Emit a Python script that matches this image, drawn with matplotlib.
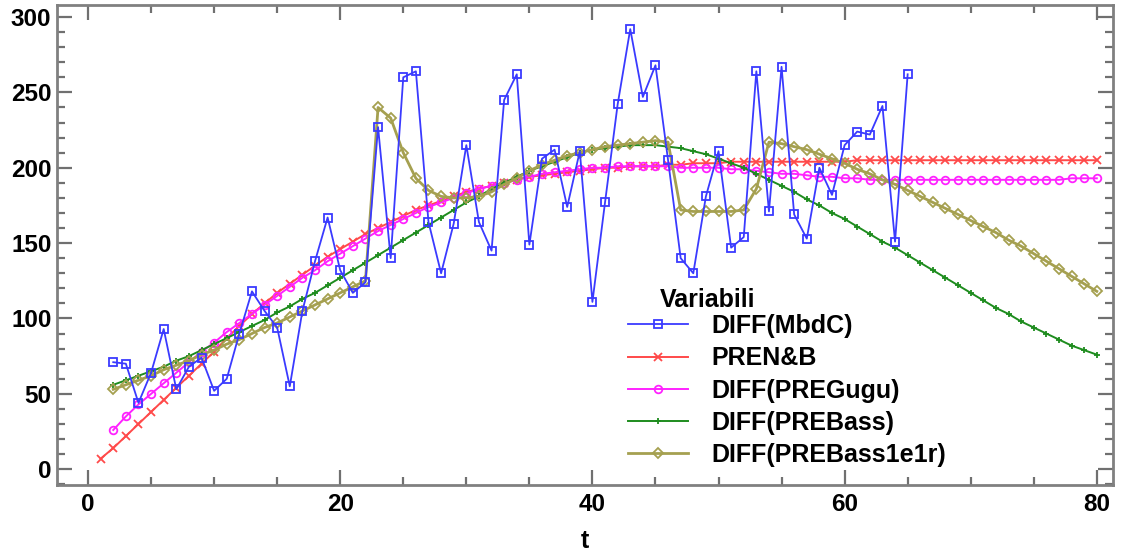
import matplotlib
matplotlib.use("Agg")
import matplotlib.pyplot as plt
from matplotlib.ticker import MultipleLocator

plt.rcParams['font.family'] = ['Liberation Sans', 'DejaVu Sans']

# ---------------- data ----------------
t_mbdc = list(range(2, 66))
mbdc = [71, 70, 44, 64, 93, 53, 68, 74, 52, 60, 90, 118, 105, 94, 55, 105, 138, 167, 132, 117,
        124, 227, 140, 260, 264, 164, 130, 163, 215, 164, 145, 245, 262, 149, 206, 212, 174, 211,
        111, 177, 242, 292, 247, 268, 205, 140, 130, 181, 211, 147, 154, 264, 171, 267, 169, 153,
        200, 182, 215, 224, 222, 241, 151, 262]

t_renb = list(range(1, 81))
renb = [7, 14, 22, 30, 38, 46, 54, 62, 70, 78, 87, 95, 103, 110, 117, 123, 129, 135, 141, 146,
        151, 156, 160, 164, 168, 172, 175, 178, 181, 184, 186, 188, 190, 192, 194, 195, 196, 197,
        198, 199, 200, 200, 201, 201, 201, 202, 202, 203, 203, 203, 204, 204, 204, 204, 204, 204,
        204, 204, 204, 204, 205, 205, 205, 205, 205, 205, 205, 205, 205, 205, 205, 205, 205, 205,
        205, 205, 205, 205, 205, 205]

t_rest = list(range(2, 81))
gugu = [26, 35, 43, 50, 57, 64, 71, 78, 84, 91, 97, 103, 109, 115, 121, 127, 132, 138, 143,
        148, 153, 158, 162, 166, 170, 174, 177, 180, 183, 186, 188, 190, 192, 194, 196, 197, 198,
        199, 200, 200, 201, 201, 201, 201, 201, 200, 200, 200, 200, 199, 199, 198, 197, 196, 196,
        195, 194, 194, 193, 193, 192, 192, 192, 192, 192, 192, 192, 192, 192, 192, 192, 192, 192,
        192, 192, 192, 193, 193, 193]

bass = [56, 59, 62, 65, 68, 72, 75, 79, 83, 87, 91, 95, 99, 104, 108, 113, 117, 122, 127, 132,
        137, 142, 147, 152, 157, 162, 167, 172, 177, 181, 186, 190, 194, 198, 201, 204, 207, 210,
        212, 213, 214, 215, 215, 215, 214, 213, 211, 209, 206, 203, 200, 196, 192, 188, 184, 179,
        175, 170, 166, 161, 156, 151, 147, 142, 137, 132, 127, 122, 117, 112, 107, 103, 98, 94,
        90, 86, 82, 79, 76]

bass1e1r = [53, 56, 59, 62, 66, 69, 72, 76, 79, 83, 86, 90, 94, 97, 101, 105, 109, 113, 117,
            121, 125, 240, 233, 210, 193, 185, 181, 180, 180, 181, 184, 189, 193, 198, 202, 205,
            208, 210, 212, 214, 215, 216, 217, 218, 217, 172, 171, 171, 171, 171, 172, 186, 217,
            216, 214, 212, 209, 206, 203, 199, 196, 192, 189, 185, 181, 177, 173, 169, 165, 161,
            157, 152, 148, 143, 138, 133, 128, 123, 118]

labels = ["DIFF(MbdC)", "PREN&B", "DIFF(PREGugu)", "DIFF(PREBass)", "DIFF(PREBass1e1r)"]
x_ticks = [0, 20, 40, 60, 80]
y_ticks = [0, 50, 100, 150, 200, 250, 300]

# ---------------- plot ----------------
fig = plt.figure(figsize=(11.29, 5.54), dpi=100)
ax = fig.add_axes([0.0505, 0.1245, 0.9355, 0.8665])

c_blue = '#3a3aff'
c_red = '#ff4a4a'
c_mag = '#ff22ff'
c_green = '#1e8c1e'
c_olive = '#a5a050'

ax.plot(t_mbdc, mbdc, color=c_blue, lw=1.3, marker='s', ms=5.5, mfc='none', mew=1.3,
        label=labels[0], zorder=3)
ax.plot(t_renb, renb, color=c_red, lw=1.4, marker='x', ms=6, mew=1.3, label=labels[1], zorder=2)
ax.plot(t_rest, gugu, color=c_mag, lw=1.4, marker='o', ms=5.5, mfc='none', mew=1.3,
        label=labels[2], zorder=2)
ax.plot(t_rest, bass, color=c_green, lw=1.4, marker='+', ms=5, mew=1.3, label=labels[3], zorder=2)
ax.plot(t_rest, bass1e1r, color=c_olive, lw=2.0, marker='D', ms=5, mfc='none', mew=1.3,
        label=labels[4], zorder=2)

ax.set_xlim(-2.46, 81.3)
ax.set_ylim(-10.5, 308)
ax.set_xticks(x_ticks)
ax.set_yticks(y_ticks)
ax.xaxis.set_minor_locator(MultipleLocator(5))
ax.yaxis.set_minor_locator(MultipleLocator(10))

for s in ax.spines.values():
    s.set_color('#808080')
    s.set_linewidth(2)

ax.tick_params(which='both', direction='in', top=True, right=True, color='#707070', width=1.6)
ax.tick_params(which='major', length=11, labelsize=17.5)
ax.tick_params(axis='y', which='major', pad=4)
ax.tick_params(axis='x', which='major', pad=6)
ax.tick_params(which='minor', length=6)
for lab in ax.get_xticklabels() + ax.get_yticklabels():
    lab.set_fontweight('bold')

ax.set_xlabel('t', fontsize=18, fontweight='bold', labelpad=9)

leg = ax.legend(loc='upper left', bbox_to_anchor=(0.556, 0.433),
                bbox_transform=fig.transFigure, frameon=False,
                prop={'weight': 'bold', 'size': 18}, handlelength=2.4, handletextpad=0.95,
                labelspacing=0.33, borderaxespad=0, borderpad=0, markerscale=1.0)
fig.text(0.5846, 0.458, 'Variabili', fontsize=18, fontweight='bold', ha='left', va='center')

fig.savefig('out.png', dpi=100)
